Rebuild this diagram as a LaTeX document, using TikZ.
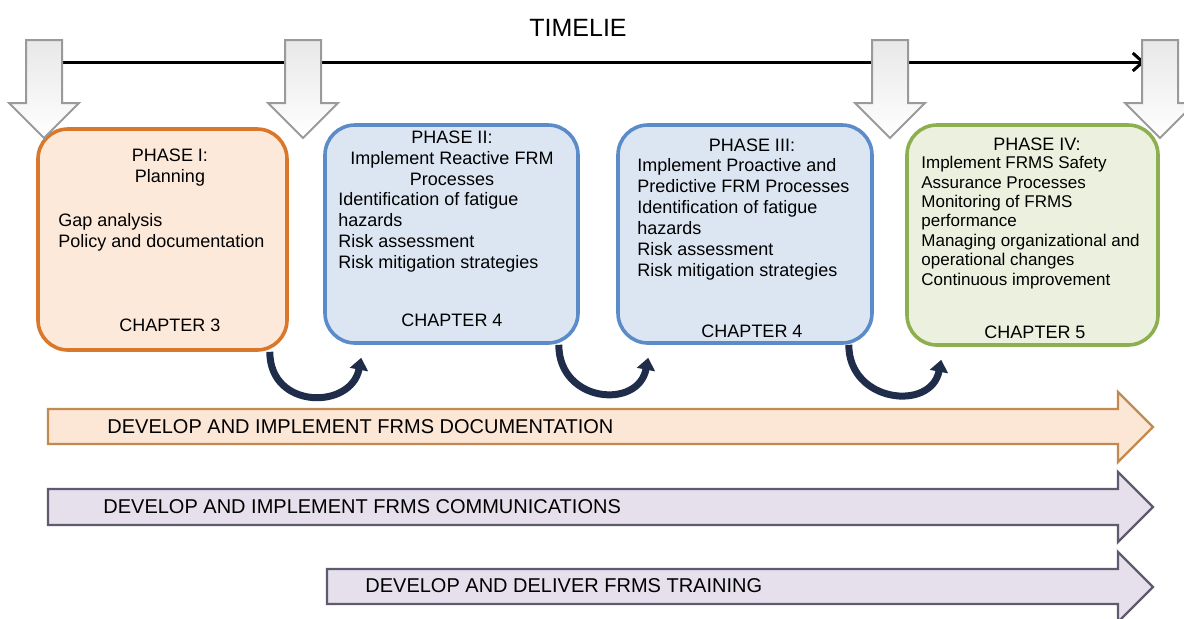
\documentclass[tikz,border=0pt]{standalone}
\usepackage{fontspec}
\setmainfont{Liberation Sans}
\usetikzlibrary{arrows.meta}

\definecolor{orangeline}{HTML}{D9782D}
\definecolor{orangefill}{HTML}{FDE9DA}
\definecolor{blueline}{HTML}{5B8BC9}
\definecolor{bluefill}{HTML}{DCE6F2}
\definecolor{greenline}{HTML}{8DAF50}
\definecolor{greenfill}{HTML}{EBF1DE}
\definecolor{docline}{HTML}{C08A50}
\definecolor{docfill}{HTML}{FCE6D6}
\definecolor{lilacline}{HTML}{5F5B6E}
\definecolor{lilacfill}{HTML}{E5E0EC}
\definecolor{curvecol}{HTML}{1F2D4A}
\definecolor{downline}{HTML}{9A9A9A}

\begin{document}
\begin{tikzpicture}[
    x=0.5pt, y=-0.5pt,
    >={Straight Barb[length=5pt,width=9pt]},
  ]
  \tikzset{
    phasebox/.style = {draw, line width=1.8pt, rounded corners=15pt, inner sep=0pt},
    headtxt/.style = {align=center, inner sep=0pt, font=\fontsize{9}{10.5}\selectfont},
    listtxt/.style = {align=left, anchor=west, inner sep=0pt, font=\fontsize{9}{10.5}\selectfont},
    chaptxt/.style = {inner sep=0pt, font=\fontsize{9}{10.5}\selectfont},
    bandtxt/.style = {anchor=west, inner sep=0pt, font=\fontsize{10}{12}\selectfont},
    downarrow/.style = {draw=downline, line width=1pt, top color=gray!18, bottom color=white},
    turn/.style = {line width=3.5pt, curvecol, -{Triangle[length=6pt,width=9pt]}},
  }
  \useasboundingbox (0,0) rectangle (1184,618);

  % Title and timeline
  \node[font=\fontsize{12.5}{15}\selectfont] (title) at (578,28) {TIMELIE};
  \coordinate (tl0) at (40,62);
  \coordinate (tl1) at (1145,62);
  \draw[line width=1.5pt, ->] (tl0) -- (tl1);

  % Phase boxes
  \node[phasebox, draw=orangeline, fill=orangefill, minimum width=124.5pt, minimum height=110.5pt] (b1) at (162.5,239.5) {};
  \node[phasebox, draw=blueline, fill=bluefill, minimum width=126.5pt, minimum height=109pt] (b2) at (451.5,234) {};
  \node[phasebox, draw=blueline, fill=bluefill, minimum width=127pt, minimum height=109pt] (b3) at (745,234) {};
  \node[phasebox, draw=greenline, fill=greenfill, minimum width=125.5pt, minimum height=110pt] (b4) at (1032.5,235) {};

  % Milestone arrows
  \foreach \cx in {44,303,890,1160}
    \draw[downarrow] (\cx-18,40) -- ++(36,0) -- ++(0,63) -- ++(17,0) -- (\cx,138) -- (\cx-35,103) -- ++(17,0) -- cycle;

  % Phase I
  \node[headtxt] (h1) at (170,168) {PHASE I:\\Planning};
  \node[listtxt] (l1) at (58,232) {Gap analysis\\Policy and documentation};
  \node[chaptxt] (c1) at (170,325) {CHAPTER 3};

  % Phase II
  \node[headtxt] (h2) at (452,158) {PHASE II:\\Implement Reactive FRM\\Processes};
  \node[listtxt] (l2) at (338,232) {Identification of fatigue\\hazards\\Risk assessment\\Risk mitigation strategies};
  \node[chaptxt] (c2) at (452,320) {CHAPTER 4};

  % Phase III
  \node[headtxt] (h3) at (752,145) {PHASE III:};
  \node[listtxt] (l3) at (637,219.5) {Implement Proactive and\\Predictive FRM Processes\\Identification of fatigue\\hazards\\Risk assessment\\Risk mitigation strategies};
  \node[chaptxt] (c3) at (752,331) {CHAPTER 4};

  % Phase IV
  \node[headtxt] (h4) at (1037,144) {PHASE IV:};
  \node[listtxt, font=\fontsize{8.5}{9.7}\selectfont] (l4) at (921,222.5) {Implement FRMS Safety\\Assurance Processes\\Monitoring of FRMS\\performance\\Managing organizational and\\operational changes\\Continuous improvement};
  \node[chaptxt] (c4) at (1035,332) {CHAPTER 5};

  % Hand-over arrows
  \draw[turn] ([xshift=-9.5pt]b1.south east) .. controls +(0,58) and +(-10,52) .. ([xshift=19pt,yshift=-6.5pt]b2.south west);
  \draw[turn] ([xshift=-10.5pt]b2.south east) .. controls +(0,58) and +(-10,52) .. ([xshift=16pt,yshift=-6.5pt]b3.south west);
  \draw[turn] ([xshift=-12.5pt]b3.south east) .. controls +(0,58) and +(-10,52) .. ([xshift=18pt,yshift=-6.5pt]b4.south west);

  % Work streams
  \draw[draw=docline, fill=docfill, line width=1.2pt] (48,409) -- (1118,409) -- (1118,392) -- (1153,427) -- (1118,462) -- (1118,444) -- (48,444) -- cycle;
  \draw[draw=lilacline, fill=lilacfill, line width=1.2pt] (48,489) -- (1118,489) -- (1118,472) -- (1153,507) -- (1118,542) -- (1118,525) -- (48,525) -- cycle;
  \draw[draw=lilacline, fill=lilacfill, line width=1.2pt] (327,569) -- (1118,569) -- (1118,552) -- (1153,587) -- (1118,622) -- (1118,604) -- (327,604) -- cycle;

  \node[bandtxt] (d1) at (107,427) {DEVELOP AND IMPLEMENT FRMS DOCUMENTATION};
  \node[bandtxt] (d2) at (103,507) {DEVELOP AND IMPLEMENT FRMS COMMUNICATIONS};
  \node[bandtxt] (d3) at (365,586) {DEVELOP AND DELIVER FRMS TRAINING};

\end{tikzpicture}
\end{document}
